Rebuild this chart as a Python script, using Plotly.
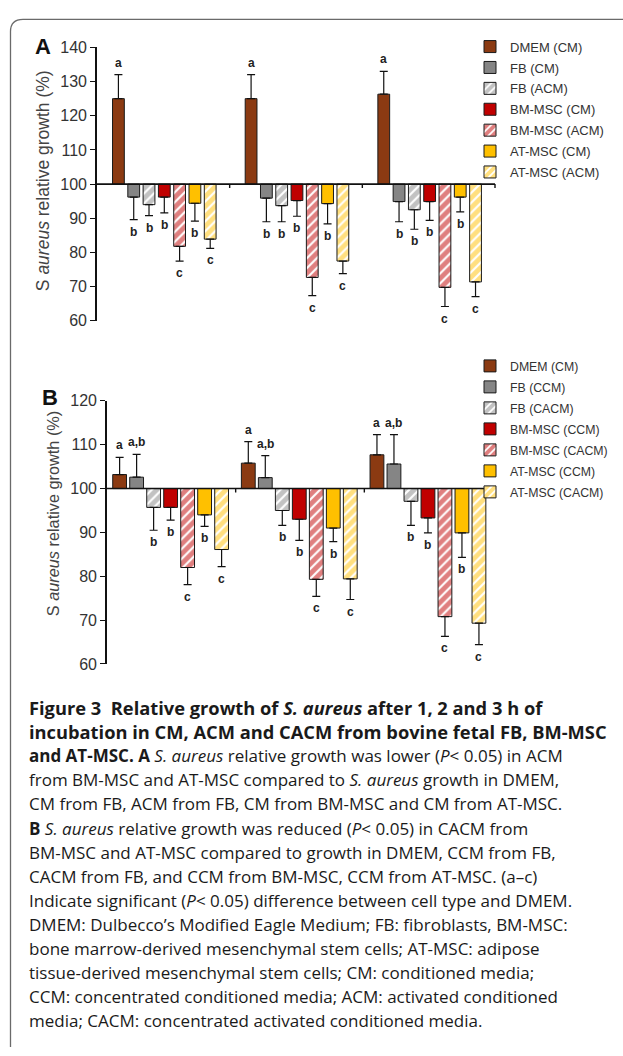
import plotly.graph_objects as go

# ---------------- data ----------------
groups = ["1 h", "2 h", "3 h"]

series_A = ["DMEM (CM)", "FB (CM)", "FB (ACM)", "BM-MSC (CM)", "BM-MSC (ACM)", "AT-MSC (CM)", "AT-MSC (ACM)"]
dmem_A = [125.0, 125.0, 126.3]
fb_cm_A = [96.2, 95.9, 94.9]
fb_acm_A = [94.0, 93.7, 92.5]
bm_cm_A = [96.2, 95.2, 94.9]
bm_acm_A = [81.8, 72.7, 69.8]
at_cm_A = [94.4, 94.3, 96.2]
at_acm_A = [83.9, 77.5, 71.4]
sd_dmem_A = [7.0, 7.0, 6.7]
sd_fb_cm_A = [6.6, 6.9, 5.9]
sd_fb_acm_A = [3.2, 4.7, 5.7]
sd_bm_cm_A = [4.6, 4.6, 5.5]
sd_bm_acm_A = [4.3, 5.3, 5.6]
sd_at_cm_A = [5.2, 5.9, 4.3]
sd_at_acm_A = [2.7, 3.7, 4.3]
letters_A = [["a", "a", "a"], ["b", "b", "b"], ["b", "b", "b"], ["b", "b", "b"],
             ["c", "c", "c"], ["b", "b", "b"], ["c", "c", "c"]]

series_B = ["DMEM (CM)", "FB (CCM)", "FB (CACM)", "BM-MSC (CCM)", "BM-MSC (CACM)", "AT-MSC (CCM)", "AT-MSC (CACM)"]
dmem_B = [103.2, 105.8, 107.7]
fb_ccm_B = [102.6, 102.5, 105.6]
fb_cacm_B = [95.7, 95.0, 97.1]
bm_ccm_B = [95.7, 93.0, 93.3]
bm_cacm_B = [82.0, 79.3, 70.8]
at_ccm_B = [94.0, 91.0, 89.9]
at_cacm_B = [86.1, 79.4, 69.3]
sd_dmem_B = [3.9, 4.9, 4.6]
sd_fb_ccm_B = [5.2, 5.0, 6.7]
sd_fb_cacm_B = [5.2, 3.4, 5.5]
sd_bm_ccm_B = [2.9, 4.8, 3.4]
sd_bm_cacm_B = [3.9, 3.9, 4.5]
sd_at_ccm_B = [2.6, 3.1, 5.6]
sd_at_cacm_B = [3.9, 4.7, 4.9]
letters_B = [["a", "a", "a"], ["a,b", "a,b", "a,b"], ["b", "b", "b"], ["b", "b", "b"],
             ["c", "c", "c"], ["b", "b", "b"], ["c", "c", "c"]]

yticks_A = [60, 70, 80, 90, 100, 110, 120, 130, 140]
yticks_B = [60, 70, 80, 90, 100, 110, 120]

caption_lines = [
    "<b>Figure 3  Relative growth of <i>S. aureus</i> after 1, 2 and 3 h of</b>",
    "<b>incubation in CM, ACM and CACM from bovine fetal FB, BM-MSC</b>",
    "<b>and AT-MSC. A</b> <i>S. aureus</i> relative growth was lower (<i>P</i>&lt; 0.05) in ACM",
    "from BM-MSC and AT-MSC compared to <i>S. aureus</i> growth in DMEM,",
    "CM from FB, ACM from FB, CM from BM-MSC and CM from AT-MSC.",
    "<b>B</b> <i>S. aureus</i> relative growth was reduced (<i>P</i>&lt; 0.05) in CACM from",
    "BM-MSC and AT-MSC compared to growth in DMEM, CCM from FB,",
    "CACM from FB, and CCM from BM-MSC, CCM from AT-MSC. (a–c)",
    "Indicate significant (<i>P</i>&lt; 0.05) difference between cell type and DMEM.",
    "DMEM: Dulbecco’s Modified Eagle Medium; FB: fibroblasts, BM-MSC:",
    "bone marrow-derived mesenchymal stem cells; AT-MSC: adipose",
    "tissue-derived mesenchymal stem cells; CM: conditioned media;",
    "CCM: concentrated conditioned media; ACM: activated conditioned",
    "media; CACM: concentrated activated conditioned media.",
]

means_A = [dmem_A, fb_cm_A, fb_acm_A, bm_cm_A, bm_acm_A, at_cm_A, at_acm_A]
sds_A = [sd_dmem_A, sd_fb_cm_A, sd_fb_acm_A, sd_bm_cm_A, sd_bm_acm_A, sd_at_cm_A, sd_at_acm_A]
means_B = [dmem_B, fb_ccm_B, fb_cacm_B, bm_ccm_B, bm_cacm_B, at_ccm_B, at_cacm_B]
sds_B = [sd_dmem_B, sd_fb_ccm_B, sd_fb_cacm_B, sd_bm_ccm_B, sd_bm_cacm_B, sd_at_ccm_B, sd_at_cacm_B]

# ---------------- styles ----------------
W, H = 623, 1056
def px(x):
    return x / W
def py(y):
    return 1 - y / H

BROWN = "#8B3A12"
GRAY = "#858585"
RED = "#C00000"
GOLD = "#FFC000"
styles = [
    dict(color=BROWN, pat=None),
    dict(color=GRAY, pat=None),
    dict(color=GRAY, pat="/"),
    dict(color=RED, pat=None),
    dict(color=RED, pat="/"),
    dict(color=GOLD, pat=None),
    dict(color=GOLD, pat="/"),
]
BASE = 100
AXFONT = "Liberation Sans, Arial, sans-serif"

fig = go.Figure()
annotations = []

def add_panel(means, sds, names, letters, xa, ya, legend, off0, pitch, width, tag):
    for i, (m, s, name) in enumerate(zip(means, sds, names)):
        st = styles[i]
        if st["pat"]:
            marker = dict(color="white", line=dict(color="#1a1a1a", width=1),
                          pattern=dict(shape="/", fgcolor=st["color"], bgcolor="white",
                                       size=7, solidity=0.7))
        else:
            marker = dict(color=st["color"], line=dict(color="#1a1a1a", width=1))
        plus = [sd if v >= BASE else 0 for v, sd in zip(m, s)]
        minus = [0 if v >= BASE else sd for v, sd in zip(m, s)]
        fig.add_trace(go.Bar(
            x=groups, y=[v - BASE for v in m], base=BASE, name=name,
            legendgroup=f"{tag}{i}",
            offset=off0 + i * pitch, width=width,
            marker=marker,
            error_y=dict(type="data", symmetric=False, array=plus, arrayminus=minus,
                         color="#111", thickness=1.2, width=4),
            xaxis=xa, yaxis=ya, legend=legend, hoverinfo="skip",
        ))
        for g, (v, sd, lab) in enumerate(zip(m, s, letters[i])):
            up = v >= BASE
            annotations.append(dict(
                x=g + off0 + i * pitch + width / 2, y=v + sd if up else v - sd,
                xref=xa, yref=ya, text=f"<b>{lab}</b>", showarrow=False,
                yanchor="middle", yshift=12 if up else -12,
                font=dict(family=AXFONT, size=12, color="#222")))

add_panel(means_A, sds_A, series_A, letters_A, "x", "y", "legend", -0.383, 0.1153, 0.0889, "A")
add_panel(means_B, sds_B, series_B, letters_B, "x2", "y2", "legend2", -0.4555, 0.1321, 0.1073, "B")

# axis line at 100 + category boundary ticks
shapes = []
for xr, yr in [("x", "y"), ("x2", "y2")]:
    shapes.append(dict(type="line", xref=f"{xr} domain", yref=yr, x0=0, x1=1, y0=BASE, y1=BASE,
                       line=dict(color="#111", width=1.6)))
    for k in (1, 2, 3):
        shapes.append(dict(type="line", xref=f"{xr} domain", yref=yr, x0=k / 3, x1=k / 3,
                           ysizemode="pixel", yanchor=BASE, y0=0, y1=-4,
                           line=dict(color="#111", width=1.4)))

# outer frame (top + left with rounded corner)
frame = (f"M {px(623)},{py(11.5)} L {px(23)},{py(11.5)} "
         f"Q {px(10.5)},{py(11.5)} {px(10.5)},{py(24)} L {px(10.5)},{py(1056)}")
shapes.append(dict(type="path", xref="paper", yref="paper", path=frame,
                   line=dict(color="#6a6a6a", width=1.3)))

# y axis titles
annotations.append(dict(x=px(43), y=py(176), xref="paper", yref="paper", textangle=-90,
                        text="S <i>aureus</i> relative growth (%)", showarrow=False,
                        xanchor="center", yanchor="middle",
                        font=dict(family=AXFONT, size=17.5, color="#444")))
annotations.append(dict(x=px(53), y=py(514.5), xref="paper", yref="paper", textangle=-90,
                        text="S <i>aureus</i> relative growth (%)", showarrow=False,
                        xanchor="center", yanchor="middle",
                        font=dict(family=AXFONT, size=16.3, color="#444")))
# panel letters
annotations.append(dict(x=px(43), y=py(39.5), xref="paper", yref="paper", text="<b>A</b>",
                        showarrow=False, xanchor="center", yanchor="middle",
                        font=dict(family=AXFONT, size=22, color="#111")))
annotations.append(dict(x=px(50), y=py(395.5), xref="paper", yref="paper", text="<b>B</b>",
                        showarrow=False, xanchor="center", yanchor="middle",
                        font=dict(family=AXFONT, size=22, color="#111")))
# caption
for k, line in enumerate(caption_lines):
    size = 18.3 if k < 2 else 17.0
    annotations.append(dict(x=px(27), y=py(711 + 24.5 * k), xref="paper", yref="paper",
                            text=line, showarrow=False, xanchor="left", yanchor="middle",
                            font=dict(family="Open Sans, sans-serif", size=size, color="#1a1a1a")))

yax_common = dict(showgrid=False, zeroline=False, ticks="outside", ticklen=5, tickwidth=1.4,
                  tickcolor="#111", showline=True, linecolor="#111", linewidth=1.6,
                  tickfont=dict(family=AXFONT, size=16, color="#333"), fixedrange=True)
xax_common = dict(visible=False, type="category", range=[-0.5, 2.5], fixedrange=True)

fig.update_layout(
    width=W, height=H, margin=dict(l=0, r=0, t=0, b=0),
    paper_bgcolor="white", plot_bgcolor="rgba(0,0,0,0)",
    barmode="overlay", showlegend=True,
    xaxis=dict(domain=[px(97), px(495)], anchor="y", **xax_common),
    yaxis=dict(domain=[py(318), py(40)], anchor="x", range=[60, 140], tickvals=yticks_A, **yax_common),
    xaxis2=dict(domain=[px(107), px(493)], anchor="y2", **xax_common),
    yaxis2=dict(domain=[py(666.7), py(399.3)], anchor="x2", range=[60, 120], tickvals=yticks_B, **yax_common),
    legend=dict(x=px(470), y=py(24), xanchor="left", yanchor="top", bgcolor="rgba(0,0,0,0)",
                font=dict(family=AXFONT, size=13, color="#333"), tracegroupgap=1),
    legend2=dict(x=px(470), y=py(349), xanchor="left", yanchor="top", bgcolor="rgba(0,0,0,0)",
                 font=dict(family=AXFONT, size=12.3, color="#333"), tracegroupgap=2),
    shapes=shapes, annotations=annotations,
)

fig.write_html("out.html", config={"displayModeBar": False},
               post_script="document.body.style.margin='0';document.body.style.overflow='hidden';")
